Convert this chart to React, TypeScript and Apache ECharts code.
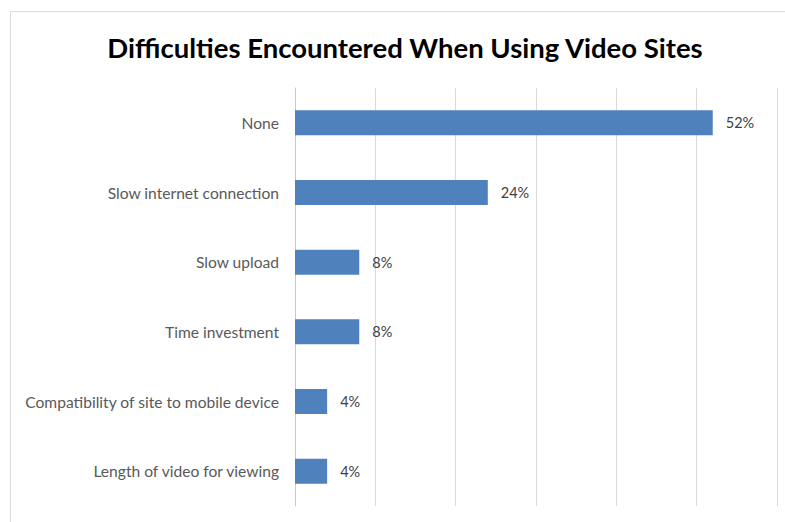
import React, { useEffect, useRef } from "react";
import * as echarts from "echarts";

const categories = [
  "None",
  "Slow internet connection",
  "Slow upload",
  "Time investment",
  "Compatibility of site to mobile device",
  "Length of video for viewing",
];
const values = [52, 24, 8, 8, 4, 4];
const titleText = "Difficulties Encountered When Using Video Sites";

export default function App() {
  const ref = useRef<HTMLDivElement>(null);
  useEffect(() => {
    if (!ref.current) return;
    const chart = echarts.init(ref.current, null, { renderer: "svg" });
    chart.setOption({
      animation: false,
      backgroundColor: "#ffffff",
      title: {
        text: titleText,
        left: 400,
        textAlign: "center",
        top: 28,
        textStyle: {
          fontFamily: "Lato",
          fontWeight: "bold",
          fontSize: 27.5,
          color: "#000000",
        },
      },
      graphic: [
        {
          type: "rect",
          shape: { x: 10.5, y: 11.5, width: 900, height: 600 },
          style: { fill: "none", stroke: "#d9d9d9", lineWidth: 1 },
          silent: true,
        },
      ],
      grid: { left: 295, right: 8, top: 88, bottom: 16, containLabel: false },
      xAxis: {
        type: "value",
        min: 0,
        max: 60,
        interval: 10,
        axisLabel: { show: false },
        axisLine: { show: false },
        axisTick: { show: false },
        splitLine: { lineStyle: { color: "#d9d9d9", width: 1 } },
      },
      yAxis: {
        type: "category",
        inverse: true,
        data: categories,
        axisLine: { show: true, lineStyle: { color: "#c8c8c8", width: 1 } },
        axisTick: { show: false },
        axisLabel: {
          margin: 16,
          fontFamily: "Lato",
          fontSize: 15.6,
          color: "#595959",
        },
      },
      series: [
        {
          type: "bar",
          data: values,
          barWidth: "36%",
          itemStyle: { color: "#4f81bd" },
          label: {
            show: true,
            position: "right",
            distance: 13,
            formatter: "{c}%",
            fontFamily: "Lato",
            fontSize: 14.5,
            color: "#404040",
          },
        },
      ],
    });
    return () => chart.dispose();
  }, []);
  return (
    <div
      ref={ref}
      style={{ position: "fixed", left: 0, top: 0, width: 785, height: 522 }}
    />
  );
}
